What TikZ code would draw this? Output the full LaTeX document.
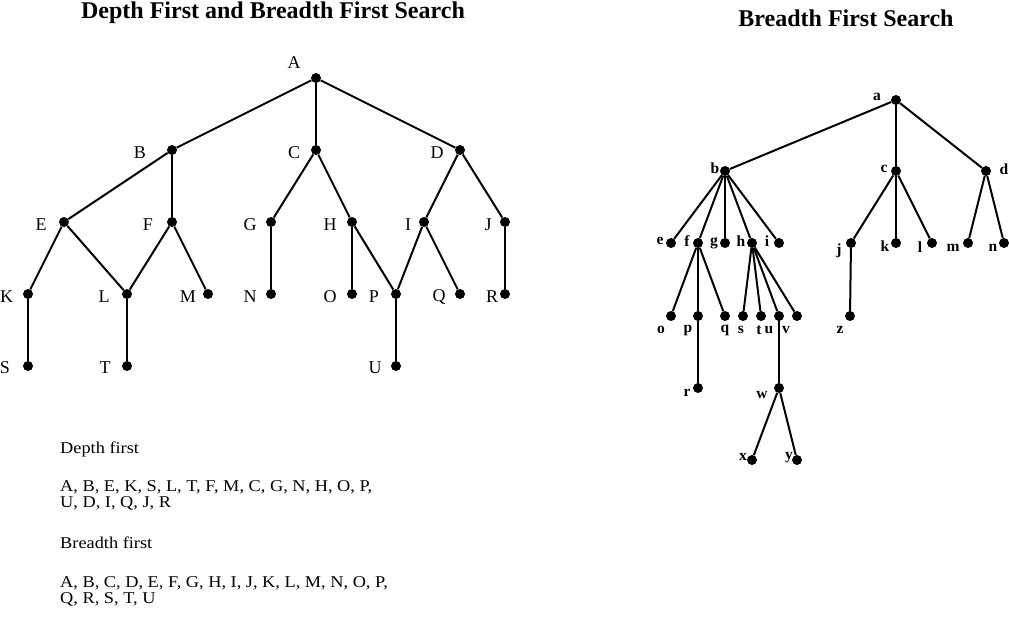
\documentclass[tikz,border=0pt]{standalone}
\usepackage{fontspec}
\setmainfont{Liberation Serif}
\newfontfamily\widefont[FakeStretch=1.11]{Liberation Serif}
\tikzset{
  dot/.style={circle,fill=black,inner sep=0pt,minimum size=10pt},
  edge/.style={line width=2pt},
  upper/.style={font=\fontsize{18}{18}\selectfont,inner sep=0pt},
  low/.style={font=\fontsize{15.5}{15}\selectfont\bfseries,inner sep=0pt},
  txt/.style={font=\widefont\fontsize{16.5}{16}\selectfont,inner sep=0pt,anchor=base west,align=left},
  heading/.style={font=\fontsize{24}{24}\selectfont\bfseries,inner sep=0pt,anchor=base},
}
\begin{document}
\begin{tikzpicture}[x=1pt,y=-1pt]
\useasboundingbox (0,0) rectangle (1009,629);

% titles
\node [heading] (title1) at (273,19) {Depth First and Breadth First Search};
\node [heading] (title2) at (846,27) {Breadth First Search};

% left tree
\node [dot] (A) at (316,78) {}; \node [upper] (lA) at (294,63) {A};
\node [dot] (B) at (172,150) {}; \node [upper] (lB) at (140,153) {B};
\node [dot] (C) at (316,150) {}; \node [upper] (lC) at (294,153) {C};
\node [dot] (D) at (460,150) {}; \node [upper] (lD) at (437,153) {D};
\node [dot] (E) at (64,222) {}; \node [upper] (lE) at (41,225) {E};
\node [dot] (F) at (172,222) {}; \node [upper] (lF) at (148,225) {F};
\node [dot] (G) at (271,222) {}; \node [upper] (lG) at (250,225) {G};
\node [dot] (H) at (352,222) {}; \node [upper] (lH) at (330,225) {H};
\node [dot] (I) at (424,222) {}; \node [upper] (lI) at (408,225) {I};
\node [dot] (J) at (505,222) {}; \node [upper] (lJ) at (488,225) {J};
\node [dot] (K) at (28,294) {}; \node [upper] (lK) at (6.5,297) {K};
\node [dot] (L) at (127,294) {}; \node [upper] (lL) at (104,297) {L};
\node [dot] (M) at (208,294) {}; \node [upper] (lM) at (188,297) {M};
\node [dot] (N) at (271,294) {}; \node [upper] (lN) at (250,297) {N};
\node [dot] (O) at (352,294) {}; \node [upper] (lO) at (330,297) {O};
\node [dot] (P) at (396,294) {}; \node [upper] (lP) at (374,297) {P};
\node [dot] (Q) at (460,294) {}; \node [upper] (lQ) at (439,297) {Q};
\node [dot] (R) at (505,294) {}; \node [upper] (lR) at (492,297) {R};
\node [dot] (S) at (28,366) {}; \node [upper] (lS) at (5,368) {S};
\node [dot] (T) at (127,366) {}; \node [upper] (lT) at (105,368) {T};
\node [dot] (U) at (396,366) {}; \node [upper] (lU) at (375,368) {U};

\draw [edge] (A) -- (B); \draw [edge] (A) -- (C); \draw [edge] (A) -- (D);
\draw [edge] (B) -- (E); \draw [edge] (B) -- (F);
\draw [edge] (C) -- (G); \draw [edge] (C) -- (H);
\draw [edge] (D) -- (I); \draw [edge] (D) -- (J);
\draw [edge] (E) -- (K); \draw [edge] (E) -- (L);
\draw [edge] (F) -- (L); \draw [edge] (F) -- (M);
\draw [edge] (G) -- (N); \draw [edge] (H) -- (O); \draw [edge] (H) -- (P);
\draw [edge] (I) -- (P); \draw [edge] (I) -- (Q); \draw [edge] (J) -- (R);
\draw [edge] (K) -- (S); \draw [edge] (L) -- (T); \draw [edge] (P) -- (U);

% search orders
\node [txt] (dfs) at (60,453) {Depth first};
\node [txt] (dfsorder) at (60,507) {A, B, E, K, S, L, T, F, M, C, G, N, H, O, P,\\U, D, I, Q, J, R};
\node [txt] (bfs) at (60,548) {Breadth first};
\node [txt] (bfsorder) at (60,603) {A, B, C, D, E, F, G, H, I, J, K, L, M, N, O, P,\\Q, R, S, T, U};

% right tree
\node [dot] (a) at (896,100) {}; \node [low] (la) at (877,97) {a};
\node [dot] (b) at (725,171) {}; \node [low] (lb) at (715,168) {b};
\node [dot] (c) at (896,171) {}; \node [low] (lc) at (884,169) {c};
\node [dot] (d) at (986,171) {}; \node [low] (ld) at (1004,169) {d};
\node [dot] (e) at (671,243) {}; \node [low] (le) at (660,241) {e};
\node [dot] (f) at (698,243) {}; \node [low] (lf) at (687,241) {f};
\node [dot] (g) at (725,243) {}; \node [low] (lg) at (714,243) {g};
\node [dot] (h) at (752,243) {}; \node [low] (lh) at (741,241) {h};
\node [dot] (i) at (779,243) {}; \node [low] (li) at (767,241) {i};
\node [dot] (j) at (851,243) {}; \node [low] (lj) at (839,251) {j};
\node [dot] (k) at (896,243) {}; \node [low] (lk) at (885,246) {k};
\node [dot] (l) at (932,243) {}; \node [low] (ll) at (920,247) {l};
\node [dot] (m) at (968,243) {}; \node [low] (lm) at (953,248) {m};
\node [dot] (n) at (1004,243) {}; \node [low] (ln) at (993,248) {n};
\node [dot] (o) at (671,316) {}; \node [low] (lo) at (661,330) {o};
\node [dot] (p) at (698,316) {}; \node [low] (lp) at (688,330) {p};
\node [dot] (q) at (725,316) {}; \node [low] (lq) at (725,330) {q};
\node [dot] (s) at (743,316) {}; \node [low] (ls) at (741,330) {s};
\node [dot] (t) at (761,316) {}; \node [low] (lt) at (759,330) {t};
\node [dot] (u) at (779,316) {}; \node [low] (lu) at (769,330) {u};
\node [dot] (v) at (797,316) {}; \node [low] (lv) at (786,330) {v};
\node [dot] (z) at (850,316) {}; \node [low] (lz) at (840,330) {z};
\node [dot] (r) at (698,388) {}; \node [low] (lr) at (687,393) {r};
\node [dot] (w) at (779,388) {}; \node [low] (lw) at (762,395) {w};
\node [dot] (x) at (752,460) {}; \node [low] (lx) at (743,457) {x};
\node [dot] (y) at (797,460) {}; \node [low] (ly) at (789,458) {y};

\draw [edge] (a) -- (b); \draw [edge] (a) -- (c); \draw [edge] (a) -- (d);
\draw [edge] (b) -- (e); \draw [edge] (b) -- (f); \draw [edge] (b) -- (g);
\draw [edge] (b) -- (h); \draw [edge] (b) -- (i);
\draw [edge] (c) -- (j); \draw [edge] (c) -- (k); \draw [edge] (c) -- (l);
\draw [edge] (d) -- (m); \draw [edge] (d) -- (n);
\draw [edge] (f) -- (o); \draw [edge] (f) -- (p); \draw [edge] (f) -- (q);
\draw [edge] (h) -- (s); \draw [edge] (h) -- (t); \draw [edge] (h) -- (u); \draw [edge] (h) -- (v);
\draw [edge] (j) -- (z); \draw [edge] (p) -- (r);
\draw [edge] (u) -- (w); \draw [edge] (w) -- (x); \draw [edge] (w) -- (y);
\end{tikzpicture}
\end{document}
